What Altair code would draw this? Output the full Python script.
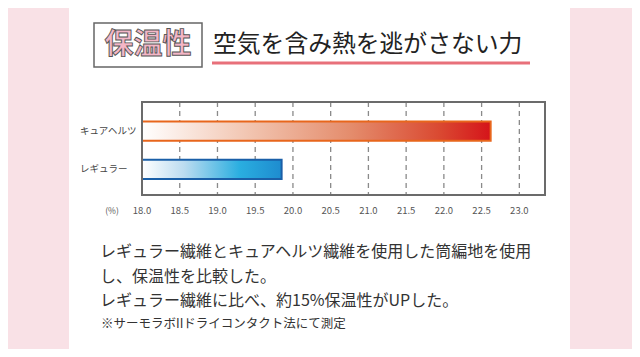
import altair as alt
import pandas as pd

# ---- data ----
categories = ["キュアヘルツ", "レギュラー"]
values = [22.62, 19.85]
tick_values = [18.0, 18.5, 19.0, 19.5, 20.0, 20.5, 21.0, 21.5, 22.0, 22.5, 23.0]
tick_labels = ["18.0", "18.5", "19.0", "19.5", "20.0", "20.5", "21.0", "21.5", "22.0", "22.5", "23.0"]
axis_unit = "(%)"
badge = "保温性"
headline = "空気を含み熱を逃がさない力"
body_lines = [
    "レギュラー繊維とキュアヘルツ繊維を使用した筒編地を使用",
    "し、保温性を比較した。",
    "レギュラー繊維に比べ、約15%保温性がUPした。",
]
note = "※サーモラボIIドライコンタクト法にて測定"

# ---- layout / style ----
W, H = 403, 93
X_MIN, X_MAX = 18.0, 23.34
FONT = "Noto Sans CJK JP"
PINK_BG = "#f9e1e6"

bars_df = pd.DataFrame({"cat": categories, "val": values})
ticks_df = pd.DataFrame({"t": tick_values, "lab": tick_labels})
one = pd.DataFrame({"k": [0]})

xs = alt.Scale(domain=[X_MIN, X_MAX], nice=False, zero=False)
ys = alt.Scale(domain=categories, paddingInner=0.5, paddingOuter=0.466, align=0.55)


def grad(stops):
    return alt.Gradient(
        gradient="linear",
        stops=[alt.GradientStop(color=c, offset=o) for o, c in stops],
        x1=0, x2=1, y1=0, y2=0,
    )


def txt(s, x, y, size, color="#333333", align="left", weight="normal", **kw):
    return alt.Chart(one).mark_text(
        font=FONT, fontSize=size, color=color, align=align, baseline="middle",
        fontWeight=weight, **kw
    ).encode(x=alt.value(x), y=alt.value(y), text=alt.value(s))


panel = alt.Chart(one).mark_rect(color="#ffffff").encode(
    x=alt.value(-73), x2=alt.value(428), y=alt.value(-102), y2=alt.value(255)
)

badge_box = alt.Chart(one).mark_rect(filled=False, stroke="#666666", strokeWidth=1.5).encode(
    x=alt.value(-48), x2=alt.value(60), y=alt.value(-79), y2=alt.value(-35)
)
badge_text = txt(badge, 6, -57, 29, color="#f4b6c6", align="center", weight="bold",
                 stroke="#555555", strokeWidth=0.9)
headline_text = txt(headline, 71, -57, 23.8, color="#222222")
underline = alt.Chart(one).mark_rule(color="#e8707a", strokeWidth=3).encode(
    x=alt.value(70), x2=alt.value(388), y=alt.value(-39)
)

grid = alt.Chart(ticks_df).mark_rule(color="#8a8a8a", strokeWidth=1.3, strokeDash=[5, 4]).encode(
    x=alt.X("t:Q", scale=xs, axis=None), y=alt.value(0), y2=alt.value(H)
)


def bar_layer(cat, stops, stroke):
    return alt.Chart(bars_df).transform_filter(alt.datum.cat == cat).mark_bar(
        fill=grad(stops), stroke=stroke, strokeWidth=2
    ).encode(
        x=alt.X("val:Q", scale=xs, axis=None),
        x2=alt.datum(X_MIN),
        y=alt.Y("cat:N", scale=ys, axis=None),
    )


bar_cure = bar_layer(
    categories[0],
    [(0, "#ffffff"), (0.3, "#f2c6b2"), (0.6, "#e48c6c"), (0.85, "#da4a32"), (1, "#d5141a")],
    "#e8661c",
)
bar_reg = bar_layer(
    categories[1],
    [(0, "#ffffff"), (0.3, "#bcdcf0"), (0.7, "#2aaee0"), (1, "#1e8ccf")],
    "#1a5fa8",
)

frame = alt.Chart(one).mark_rect(filled=False, stroke="#6b6b6b", strokeWidth=2).encode(
    x=alt.value(0), x2=alt.value(W), y=alt.value(0), y2=alt.value(H)
)

tick_text = alt.Chart(ticks_df).mark_text(
    font=FONT, fontSize=9.5, color="#555555", baseline="middle"
).encode(x=alt.X("t:Q", scale=xs, axis=None), y=alt.value(H + 16), text="lab:N")

unit_text = txt(axis_unit, -30, H + 16, 8.5, color="#555555", align="center")

cat_text = alt.Chart(bars_df).mark_text(
    font=FONT, fontSize=9.5, color="#444444", align="left", baseline="middle"
).encode(x=alt.value(-62), y=alt.Y("cat:N", scale=ys, axis=None), text="cat:N")

body = [txt(s, -42, y, 16, color="#333333") for s, y in zip(body_lines, [150, 175, 199])]
note_text = txt(note, -41, 222, 12.5, color="#333333")

chart = alt.layer(
    panel, badge_box, badge_text, headline_text, underline,
    grid, bar_cure, bar_reg, frame, tick_text, unit_text, cat_text,
    *body, note_text,
).properties(
    width=W, height=H,
    padding={"left": 134, "top": 94, "right": 87, "bottom": 154},
    autosize=alt.AutoSizeParams(type="none"),
    background=PINK_BG,
).configure_view(strokeWidth=0)

chart.save("out.html", embed_options={"renderer": "svg", "actions": False})
